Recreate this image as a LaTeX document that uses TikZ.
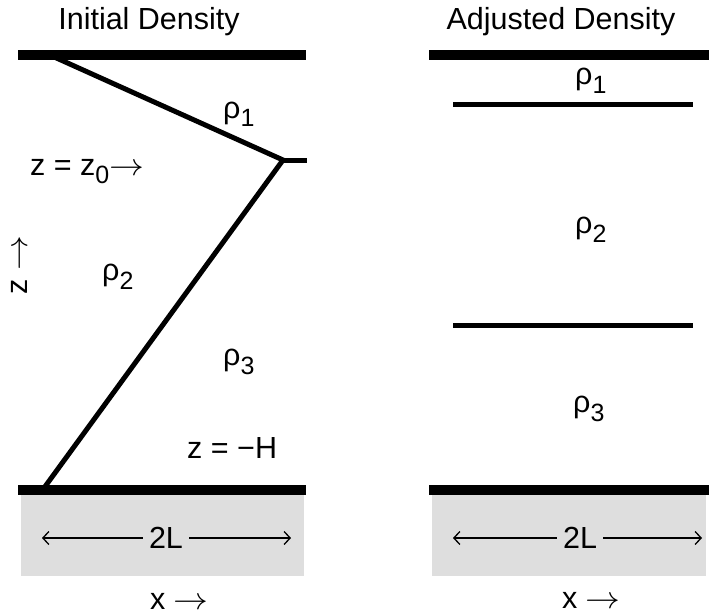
\documentclass[tikz,border=0pt]{standalone}
\usepackage{graphicx}
\usepackage{fontspec}
\setmainfont{Liberation Sans}
\usetikzlibrary{arrows.meta}

% lowered index, as the picture sets it
\newcommand{\lowix}[1]{\raisebox{-9pt}{\fontsize{25}{25}\selectfont #1}}
\newcommand{\rarr}{\scalebox{1.4}[1.25]{$\rightarrow$}}

\begin{document}
\begin{tikzpicture}[x=1pt,y=-1pt,
    lbl/.style={inner sep=0pt,anchor=base west,font=\fontsize{30.5}{32}\selectfont},
    ttl/.style={inner sep=0pt,font=\fontsize{30.5}{32}\selectfont},
    wall/.style={line width=10pt},
    iface/.style={line width=5pt},
    dim/.style={line width=1.3pt,-{Straight Barb[length=6pt,width=13pt]}},
    floor/.style={fill=black!13}
]
\useasboundingbox (0,0) rectangle (709,615);

% left panel: initial density
\node[ttl] (initT) at (149,22) {Initial Density};
\fill[floor] (21,495) rectangle (304,576);
\draw[wall] (18,55) -- (306,55);
\draw[wall] (18,490) -- (306,490);
\coordinate (topEnd) at (52,56);
\coordinate (kink) at (283,160);
\coordinate (botEnd) at (44,488);
\draw[iface] (topEnd) -- (kink) -- (botEnd);
\draw[iface] (kink) -- (307,160);
\node[lbl] (rhoOneL) at (223,118) {ρ\lowix{1}};
\node[lbl] (zzero) at (30,175) {z = z\lowix{0}\rarr};
\node[lbl] (rhoTwoL) at (102,280) {ρ\lowix{2}};
\node[lbl] (rhoThreeL) at (223,365) {ρ\lowix{3}};
\node[lbl] (zH) at (187,458) {z = −H};
\node[ttl,rotate=90] (zaxis) at (19,265) {z \rarr};
\node[ttl,inner xsep=6pt] (twoLL) at (166,538) {2L};
\coordinate (tipLa) at (42,538);
\coordinate (tipLb) at (291,538);
\draw[dim] (twoLL.west) -- (tipLa);
\draw[dim] (twoLL.east) -- (tipLb);
\node[lbl] (xaxisL) at (150,609) {x \rarr};

% right panel: adjusted density
\node[ttl] (adjT) at (561,22) {Adjusted Density};
\fill[floor] (432,495) rectangle (706,576);
\draw[wall] (429,55) -- (709,55);
\draw[wall] (429,490) -- (709,490);
\draw[iface] (453,105) -- (693,105);
\draw[iface] (453,325) -- (693,325);
\node[lbl] (rhoOneR) at (575,85) {ρ\lowix{1}};
\node[lbl] (rhoTwoR) at (575,233) {ρ\lowix{2}};
\node[lbl] (rhoThreeR) at (573,412) {ρ\lowix{3}};
\node[ttl,inner xsep=6pt] (twoLR) at (580,538) {2L};
\coordinate (tipRa) at (453,538);
\coordinate (tipRb) at (702,538);
\draw[dim] (twoLR.west) -- (tipRa);
\draw[dim] (twoLR.east) -- (tipRb);
\node[lbl] (xaxisR) at (562,608) {x \rarr};
\end{tikzpicture}
\end{document}
